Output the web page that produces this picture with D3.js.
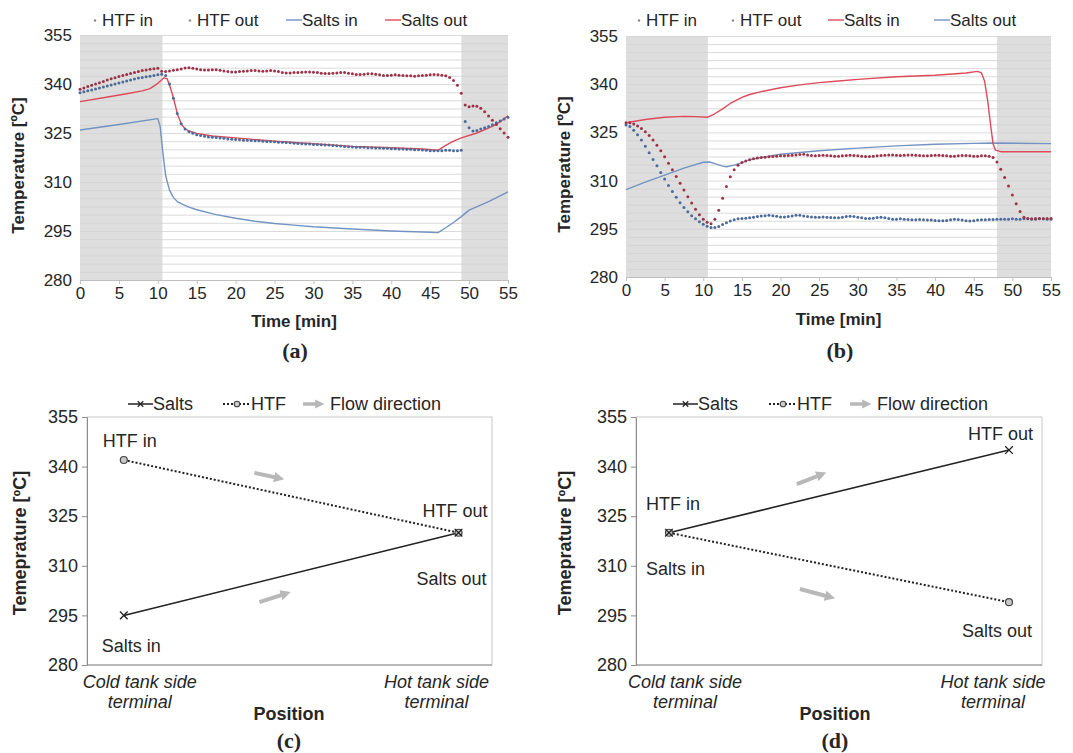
<!DOCTYPE html>
<html>
<head>
<meta charset="utf-8">
<script src="https://cdn.jsdelivr.net/npm/d3@7"></script>
<style>
  body { margin: 0; background: #fff; }
  svg text { font-family: "Liberation Sans", Arial, sans-serif; fill: #262626; }
</style>
</head>
<body>
<svg id="fig" width="1073" height="753"></svg>
<script>
// ---- data ----
const minutes = d3.range(0, 55.01, 0.5);
const timeTicks = [0, 5, 10, 15, 20, 25, 30, 35, 40, 45, 50, 55];
const tempTicks = [280, 295, 310, 325, 340, 355];

// (a) shaded periods [start, end] in min
const aShade = [[0, 10.6], [49, 55]];
const bShade = [[0, 10.6], [48, 55]];

// (a) HTF dotted series, one value every 0.5 min
const aHtfIn = [
  338.4, 338.8, 339.2, 339.6, 340.0, 340.4, 340.8, 341.2, 341.6, 341.9, 342.3, 342.6, 342.9, 343.2, 343.5, 343.8, 344.1, 344.3, 344.5, 344.7, 344.8,
  343.9, 343.8, 344.0, 344.2, 344.4, 344.6, 344.9, 345.0, 344.8, 344.6, 344.4, 344.3, 344.3, 344.4, 344.4, 344.2, 344.0, 343.8, 343.7, 343.7,
  343.8, 343.9, 344.0, 344.1, 344.1, 344.0, 343.9, 344.0, 344.1, 344.0, 343.8, 343.5, 343.4, 343.4, 343.5, 343.5, 343.6, 343.7, 343.7, 343.6,
  343.5, 343.3, 343.2, 343.2, 343.3, 343.4, 343.5, 343.5, 343.3, 343.1, 342.9, 342.9, 343.0, 343.1, 343.1, 343.0, 342.8, 342.6, 342.6, 342.7,
  342.8, 342.7, 342.6, 342.5, 342.5, 342.4, 342.5, 342.6, 342.7, 342.8, 342.9, 342.8, 342.7, 342.5,
  342.0, 341.1, 339.6, 337.2, 333.6, 333.0, 333.3, 333.2, 332.6, 331.5, 330.2, 328.9, 327.6, 326.3, 325.0, 323.7
];
const aHtfOut = [
  337.3, 337.6, 337.9, 338.2, 338.5, 338.8, 339.1, 339.4, 339.7, 340.0, 340.3, 340.6, 340.9, 341.2, 341.5, 341.8, 342.0, 342.2, 342.4, 342.6, 342.8,
  343.0, 342.6, 340.0, 335.6, 331.0, 327.8, 326.2, 325.4, 324.9, 324.5, 324.2, 324.0, 323.8, 323.7, 323.6, 323.5, 323.4, 323.2, 323.1, 323.0,
  322.9, 322.8, 322.8, 322.7, 322.6, 322.6, 322.5, 322.4, 322.4, 322.3, 322.2, 322.2, 322.1, 322.0, 321.9, 321.8, 321.7, 321.6, 321.6, 321.5,
  321.5, 321.4, 321.3, 321.3, 321.2, 321.1, 321.0, 320.9, 320.8, 320.7, 320.6, 320.6, 320.6, 320.5, 320.5, 320.4, 320.4, 320.3, 320.3, 320.2,
  320.2, 320.1, 320.1, 320.0, 320.0, 319.9, 319.9, 319.8, 319.7, 319.6, 319.6, 319.6, 319.6, 319.7,
  319.7, 319.6, 319.6, 319.7, 328.5, 326.6, 325.6, 325.8, 326.2, 326.6, 327.0, 327.5, 328.1, 328.7, 329.3, 329.8
];
// (a) salts solid lines [min, degC]
const aSaltsIn = [
  [0, 325.9], [5, 327.6], [10, 329.4], [10.3, 327], [10.6, 320], [11, 312], [11.5, 307.5], [12, 305.3], [12.5, 304],
  [13, 303.4], [14, 302.3], [15, 301.5], [17.5, 300], [20, 298.9], [22.5, 298], [25, 297.3], [27.5, 296.8], [30, 296.3],
  [35, 295.6], [40, 295], [45, 294.6], [46, 294.5], [47, 296], [48, 297.6], [49, 299.4], [50, 301.4], [52.5, 304], [55, 307]
];
const aSaltsOut = [
  [0, 334.6], [3, 335.8], [6, 337], [8, 337.9], [9, 338.6], [10, 340.2], [10.8, 341.9], [11.2, 341.6], [11.6, 339],
  [12, 335.8], [12.5, 331], [13, 327.8], [13.5, 326.3], [14, 325.6], [15, 324.9], [17, 324.1], [20, 323.5], [25, 322.5],
  [30, 321.7], [35, 320.9], [40, 320.5], [44, 320.1], [46, 319.7], [47, 321.2], [48, 322.5], [49, 323.5], [51, 325],
  [53, 327], [54, 328.5], [55, 330.3]
];

// (b) HTF dotted series, one value every 0.5 min
const bHtfIn = [
  328.0, 328.0, 327.6, 327.0, 326.2, 325.2, 324.0, 322.6, 321.0, 319.3, 317.4, 315.4, 313.4, 311.3, 309.2, 307.1, 305.0, 303.0, 301.1, 299.4, 298.0,
  297.0, 296.6, 298.0, 300.8, 304.5, 308.2, 311.2, 313.4, 314.8, 315.6, 316.1, 316.5, 316.8, 317.0, 317.2, 317.3, 317.4, 317.5, 317.6, 317.7,
  317.7, 317.8, 317.9, 318.0, 318.1, 318.2, 318.0, 317.8, 317.7, 317.8, 317.9, 317.8, 317.7, 317.6, 317.6, 317.7, 317.8, 317.9, 317.8, 317.7,
  317.6, 317.5, 317.5, 317.6, 317.7, 317.8, 317.9, 318.0, 318.0, 317.9, 317.8, 317.9, 318.0, 318.0, 317.9, 317.8, 317.7, 317.7, 317.8, 317.9,
  317.9, 317.8, 317.7, 317.6, 317.6, 317.7, 317.8, 317.8, 317.7, 317.6, 317.6, 317.7, 317.7, 317.6,
  317.2, 315.8, 313.5, 311.0, 308.3, 305.5, 302.8, 300.4, 298.6, 298.2, 298.1, 298.2, 298.2, 298.1, 298.2, 298.2
];
const bHtfOut = [
  327.3, 326.8, 325.7, 324.3, 322.6, 320.7, 318.7, 316.6, 314.6, 312.5, 310.5, 308.5, 306.6, 304.8, 303.1, 301.6, 300.3, 299.1, 298.1, 297.2, 296.4,
  295.8, 295.4, 295.4, 295.7, 296.3, 296.9, 297.4, 297.8, 298.1, 298.2, 298.3, 298.4, 298.6, 298.8, 299.0, 299.1, 299.2, 299.1, 298.9, 298.7,
  298.7, 298.8, 299.0, 299.2, 299.2, 299.0, 298.8, 298.7, 298.6, 298.6, 298.7, 298.6, 298.5, 298.4, 298.4, 298.6, 298.8, 298.9, 298.8, 298.6,
  298.4, 298.2, 298.2, 298.3, 298.5, 298.6, 298.4, 298.2, 298.0, 298.0, 298.1, 298.0, 297.9, 297.8, 297.8, 297.9, 297.8, 297.7, 297.7, 297.6,
  297.5, 297.5, 297.6, 297.8, 298.0, 297.9, 297.7, 297.5, 297.4, 297.5, 297.7, 297.8, 297.8, 297.9,
  297.9, 298.0, 298.0, 298.0, 298.0, 298.1, 298.0, 298.0, 298.1, 298.1, 298.0, 298.0, 298.1, 298.1, 298.0, 298.0
];
const bSaltsIn = [
  [0, 328], [2.5, 329], [5, 329.7], [7.5, 330], [9, 329.9], [10.5, 329.7], [11.5, 330.8], [12.5, 332.3], [13.5, 334],
  [15, 335.9], [16, 336.8], [17.5, 337.7], [20, 338.9], [22.5, 339.8], [25, 340.5], [27.5, 341], [30, 341.5], [35, 342.3],
  [40, 342.8], [44, 343.5], [45.5, 344], [46, 343.5], [46.4, 341], [46.8, 335], [47.2, 327], [47.5, 321.5], [47.8, 319.5],
  [48.5, 319], [55, 319]
];
const bSaltsOut = [
  [0, 307.2], [2.5, 309.5], [5, 311.7], [7.5, 313.9], [10, 315.7], [10.8, 315.8], [11.5, 315.3], [12.5, 314.5], [13, 314.3],
  [14, 314.8], [15, 315.6], [16, 316.5], [17.5, 317.2], [20, 318.2], [25, 319.3], [30, 320.1], [35, 320.8], [40, 321.3],
  [45, 321.6], [47.5, 321.7], [55, 321.5]
];

// (c), (d) terminal temperatures: [cold side, hot side]
const positions = [["Cold tank side", "terminal"], ["Hot tank side", "terminal"]];
const cSalts = [295, 320];
const cHtf = [342, 320];
const dSalts = [320, 345];
const dHtf = [320, 299];

const RED = "#dd4b5a", BLUE = "#7393c2", RED_DOT = "#9d3348", BLUE_DOT = "#4c6b9a";

const svg = d3.select("#fig");
const defs = svg.append("defs");
defs.append("marker")
  .attr("id", "arrowHead")
  .attr("viewBox", "0 0 10 10")
  .attr("refX", 2).attr("refY", 5)
  .attr("markerWidth", 2.6).attr("markerHeight", 2.6)
  .attr("orient", "auto")
  .append("path").attr("d", "M0,0L10,5L0,10z").attr("fill", "#b8b8b8");

function timeChart(cfg) {
  const x = d3.scaleLinear().domain([0, 55]).range([cfg.x0, cfg.x1]);
  const y = d3.scaleLinear().domain([280, 355]).range([cfg.y1, cfg.y0]);
  const g = svg.append("g");

  g.selectAll("rect.shade").data(cfg.shade).join("rect")
    .attr("class", "shade")
    .attr("x", d => x(d[0])).attr("width", d => x(d[1]) - x(d[0]))
    .attr("y", y(355)).attr("height", y(280) - y(355))
    .attr("fill", "#dedede");

  g.selectAll("line.grid").data(d3.range(282.5, 355.1, 2.5)).join("line")
    .attr("class", "grid")
    .attr("x1", x(0)).attr("x2", x(55))
    .attr("y1", d => y(d) + 0.5).attr("y2", d => y(d) + 0.5)
    .attr("stroke", "#d3d3d3").attr("stroke-width", 1).attr("opacity", 0.8);

  const xAxis = g.append("g")
    .attr("transform", `translate(0,${y(280)})`)
    .call(d3.axisBottom(x).tickValues(timeTicks).tickSizeInner(4).tickSizeOuter(0).tickPadding(3));
  xAxis.select(".domain").attr("stroke", "#bfbfbf");
  xAxis.selectAll(".tick line").attr("stroke", "#bfbfbf");
  xAxis.selectAll("text").attr("font-size", 17).attr("font-family", null).attr("fill", "#333");

  const yAxis = g.append("g")
    .attr("transform", `translate(${x(0)},0)`)
    .call(d3.axisLeft(y).tickValues(tempTicks).tickSize(0).tickPadding(8));
  yAxis.select(".domain").remove();
  yAxis.selectAll("text").attr("font-size", 17).attr("font-family", null).attr("fill", "#333");

  const line = d3.line().x(d => x(d[0])).y(d => y(d[1]));
  cfg.solid.forEach(s => {
    g.append("path").datum(s.points)
      .attr("d", line).attr("fill", "none")
      .attr("stroke", s.color).attr("stroke-width", 1.4)
      .attr("stroke-linejoin", "round");
  });
  cfg.dotted.forEach(s => {
    g.append("g").selectAll("circle").data(s.values).join("circle")
      .attr("cx", (d, i) => x(minutes[i])).attr("cy", d => y(d))
      .attr("r", 1.5).attr("fill", s.color);
  });

  // legend
  const lg = g.append("g");
  cfg.legend.forEach((item, i) => {
    const lx = cfg.legendX[i], ly = cfg.legendY;
    let tx;
    if (item.kind === "dot") {
      lg.append("circle").attr("cx", lx + 3).attr("cy", ly - 5.5).attr("r", 1.2).attr("fill", "#888");
      tx = lx + 10;
    } else {
      lg.append("line").attr("x1", lx).attr("x2", lx + 16)
        .attr("y1", ly - 6).attr("y2", ly - 6)
        .attr("stroke", item.color).attr("stroke-width", 1.4);
      tx = lx + 16;
    }
    lg.append("text").attr("x", tx).attr("y", ly).attr("font-size", 17).text(item.name);
  });

  g.append("text")
    .attr("transform", `translate(${cfg.yTitleX},${(y(280) + y(355)) / 2 + 8}) rotate(-90)`)
    .attr("text-anchor", "middle").attr("font-size", 17).attr("font-weight", "bold")
    .text("Temperature [ºC]");
  g.append("text")
    .attr("x", (x(0) + x(55)) / 2).attr("y", cfg.xTitleY)
    .attr("text-anchor", "middle").attr("font-size", 17).attr("font-weight", "bold")
    .text("Time [min]");
  g.append("text")
    .attr("x", cfg.tagX).attr("y", cfg.tagY)
    .attr("text-anchor", "middle").attr("font-size", 22).attr("font-weight", "bold")
    .style("font-family", "'Liberation Serif', 'Times New Roman', serif")
    .text(cfg.tag);
}

function positionChart(cfg) {
  const x = d3.scaleLinear().domain(cfg.xDomain).range([cfg.x0, cfg.x1]);
  const y = d3.scaleLinear().domain([280, 355]).range([cfg.y1, cfg.y0]);
  const g = svg.append("g");

  g.append("rect")
    .attr("x", x.range()[0]).attr("y", y(355))
    .attr("width", x.range()[1] - x.range()[0]).attr("height", y(280) - y(355))
    .attr("fill", "none").attr("stroke", "#c8c8c8");

  const yAxis = g.append("g")
    .attr("transform", `translate(${x.range()[0]},0)`)
    .call(d3.axisLeft(y).tickValues(tempTicks).tickSizeInner(5).tickSizeOuter(0).tickPadding(4));
  yAxis.select(".domain").attr("stroke", "#8c8c8c");
  yAxis.selectAll(".tick line").attr("stroke", "#8c8c8c");
  yAxis.selectAll("text").attr("font-size", 18).attr("font-family", null).attr("fill", "#333");

  g.append("line")
    .attr("x1", x.range()[0]).attr("x2", x.range()[1])
    .attr("y1", y(280)).attr("y2", y(280))
    .attr("stroke", "#8c8c8c");

  // category labels
  positions.forEach((lines, i) => {
    const t = g.append("text")
      .attr("x", x(i) + cfg.labelDx[i]).attr("y", y(280) + 23)
      .attr("text-anchor", "middle").attr("font-size", 18).attr("font-style", "italic")
      .attr("fill", "#333");
    lines.forEach((s, j) => t.append("tspan").attr("x", x(i) + cfg.labelDx[i]).attr("dy", j ? 20 : 0).text(s));
  });

  // flow arrows
  cfg.arrows.forEach(a => {
    g.append("line")
      .attr("x1", x(a[0])).attr("y1", y(a[1]))
      .attr("x2", x(a[2])).attr("y2", y(a[3]))
      .attr("stroke", "#b8b8b8").attr("stroke-width", 4)
      .attr("marker-end", "url(#arrowHead)");
  });

  const line = d3.line().x((d, i) => x(i)).y(d => y(d));
  g.append("path").datum(cfg.htf).attr("d", line)
    .attr("fill", "none").attr("stroke", "#222").attr("stroke-width", 2)
    .attr("stroke-dasharray", "2,2");
  g.append("path").datum(cfg.salts).attr("d", line)
    .attr("fill", "none").attr("stroke", "#222").attr("stroke-width", 1.5);

  g.selectAll("circle.htf").data(cfg.htf).join("circle")
    .attr("class", "htf")
    .attr("cx", (d, i) => x(i)).attr("cy", d => y(d)).attr("r", 3.5)
    .attr("fill", "#c8c8c8").attr("stroke", "#444").attr("stroke-width", 1.2);
  g.selectAll("path.salt").data(cfg.salts).join("path")
    .attr("class", "salt")
    .attr("transform", (d, i) => `translate(${x(i)},${y(d)})`)
    .attr("d", d3.symbol(d3.symbolX, 40))
    .attr("stroke", "#222").attr("stroke-width", 1.3).attr("fill", "none");

  // point annotations
  cfg.notes.forEach(n => {
    const v = n.series === "salts" ? cfg.salts[n.i] : cfg.htf[n.i];
    g.append("text")
      .attr("x", x(n.i) + n.dx).attr("y", y(v) + n.dy)
      .attr("text-anchor", n.anchor).attr("font-size", 18)
      .text(n.text);
  });

  // legend
  const L = cfg.legendX, ly = cfg.legendY;
  g.append("line").attr("x1", L[0]).attr("x2", L[0] + 25).attr("y1", ly).attr("y2", ly)
    .attr("stroke", "#222").attr("stroke-width", 1.5);
  g.append("path").attr("transform", `translate(${L[0] + 12.5},${ly})`)
    .attr("d", d3.symbol(d3.symbolX, 22)).attr("stroke", "#222").attr("stroke-width", 1.2);
  g.append("text").attr("x", L[0] + 25).attr("y", ly + 6).attr("font-size", 18).text("Salts");
  g.append("line").attr("x1", L[1]).attr("x2", L[1] + 27).attr("y1", ly).attr("y2", ly)
    .attr("stroke", "#222").attr("stroke-width", 2).attr("stroke-dasharray", "2,2");
  g.append("circle").attr("cx", L[1] + 14).attr("cy", ly).attr("r", 2.8)
    .attr("fill", "#ccc").attr("stroke", "#444").attr("stroke-width", 1.1);
  g.append("text").attr("x", L[1] + 28).attr("y", ly + 6).attr("font-size", 18).text("HTF");
  g.append("line").attr("x1", L[2]).attr("x2", L[2] + 14).attr("y1", ly).attr("y2", ly)
    .attr("stroke", "#b8b8b8").attr("stroke-width", 3.5)
    .attr("marker-end", "url(#arrowHead)");
  g.append("text").attr("x", L[2] + 27).attr("y", ly + 6).attr("font-size", 18).text("Flow direction");

  g.append("text")
    .attr("transform", `translate(${cfg.yTitleX},${(y(280) + y(355)) / 2 + 2}) rotate(-90)`)
    .attr("text-anchor", "middle").attr("font-size", 18).attr("font-weight", "bold")
    .text("Temeprature [ºC]");
  g.append("text")
    .attr("x", cfg.xTitleX).attr("y", y(280) + 55)
    .attr("text-anchor", "middle").attr("font-size", 18).attr("font-weight", "bold")
    .text("Position");
  g.append("text")
    .attr("x", cfg.xTitleX).attr("y", y(280) + 83)
    .attr("text-anchor", "middle").attr("font-size", 22).attr("font-weight", "bold")
    .style("font-family", "'Liberation Serif', 'Times New Roman', serif")
    .text(cfg.tag);
}

timeChart({
  x0: 80, x1: 508, y0: 35, y1: 280, shade: aShade,
  solid: [{ points: aSaltsIn, color: BLUE }, { points: aSaltsOut, color: RED }],
  dotted: [{ values: aHtfOut, color: BLUE_DOT }, { values: aHtfIn, color: RED_DOT }],
  legend: [{ name: "HTF in", kind: "dot" }, { name: "HTF out", kind: "dot" },
           { name: "Salts in", kind: "line", color: BLUE }, { name: "Salts out", kind: "line", color: RED }],
  legendX: [92, 187, 286, 385], legendY: 26,
  yTitleX: 24, xTitleY: 327, tag: "(a)", tagX: 295, tagY: 358
});

timeChart({
  x0: 626, x1: 1051, y0: 36, y1: 277, shade: bShade,
  solid: [{ points: bSaltsOut, color: BLUE }, { points: bSaltsIn, color: RED }],
  dotted: [{ values: bHtfOut, color: BLUE_DOT }, { values: bHtfIn, color: RED_DOT }],
  legend: [{ name: "HTF in", kind: "dot" }, { name: "HTF out", kind: "dot" },
           { name: "Salts in", kind: "line", color: RED }, { name: "Salts out", kind: "line", color: BLUE }],
  legendX: [636, 730, 828, 934], legendY: 26,
  yTitleX: 570, xTitleY: 325, tag: "(b)", tagX: 840, tagY: 358
});

positionChart({
  x0: 87, x1: 492, y0: 417, y1: 665, xDomain: [-0.11, 1.1],
  salts: cSalts, htf: cHtf,
  labelDx: [16, -22],
  arrows: [[0.39, 338.1, 0.455, 336.7], [0.405, 299.0, 0.475, 301.3]],
  notes: [
    { text: "HTF in", series: "htf", i: 0, dx: -21, dy: -13, anchor: "start" },
    { text: "HTF out", series: "htf", i: 1, dx: 29, dy: -16, anchor: "end" },
    { text: "Salts out", series: "salts", i: 1, dx: 28, dy: 52, anchor: "end" },
    { text: "Salts in", series: "salts", i: 0, dx: -22, dy: 37, anchor: "start" }
  ],
  legendX: [128, 223, 303], legendY: 404,
  yTitleX: 26, xTitleX: 289, tag: "(c)"
});

positionChart({
  x0: 636, x1: 1042, y0: 417, y1: 665, xDomain: [-0.097, 1.097],
  salts: dSalts, htf: dHtf,
  labelDx: [16, -16],
  arrows: [[0.376, 334.7, 0.44, 337.3], [0.385, 303.0, 0.465, 300.8]],
  notes: [
    { text: "HTF out", series: "salts", i: 1, dx: 24, dy: -10, anchor: "end" },
    { text: "HTF in", series: "htf", i: 0, dx: -23, dy: -23, anchor: "start" },
    { text: "Salts in", series: "htf", i: 0, dx: -23, dy: 42, anchor: "start" },
    { text: "Salts out", series: "htf", i: 1, dx: 23, dy: 35, anchor: "end" }
  ],
  legendX: [673, 769, 850], legendY: 404,
  yTitleX: 571, xTitleX: 835, tag: "(d)"
});
</script>
</body>
</html>
